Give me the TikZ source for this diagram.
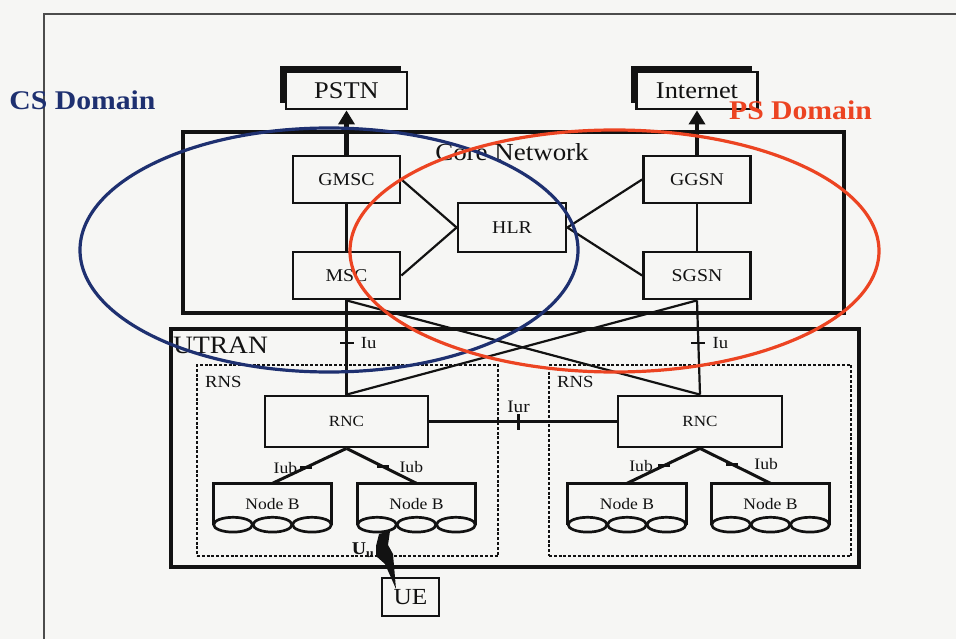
\documentclass[tikz,border=0pt]{standalone}
\usepackage{fontspec}
\setmainfont{Liberation Serif}[FakeStretch=1.1]
\usetikzlibrary{arrows.meta,calc,shadows,positioning,shapes.geometric}
\definecolor{csblue}{RGB}{30,48,112}
\definecolor{psred}{RGB}{236,68,34}
\definecolor{paper}{RGB}{246,246,244}
\definecolor{ink}{RGB}{18,18,18}
\begin{document}
\begin{tikzpicture}[x=1pt,y=-1pt,
  elem/.style={draw=ink, line width=2.8pt, fill=paper, inner sep=0pt, text=ink,
    font=\fontsize{18}{18}\selectfont},
  area/.style={draw=ink, line width=3.8pt, fill=paper, inner sep=0pt},
  rns/.style={draw=ink, line width=1.8pt, dash pattern=on 3pt off 1.8pt, inner sep=0pt},
  nodeb/.style={inner sep=0pt, minimum width=118pt, minimum height=41pt, text=ink,
    font=\fontsize{16}{16}\selectfont},
  outline/.style={draw=ink, line width=2.7pt},
  link/.style={draw=ink, line width=2.2pt},
  iublink/.style={draw=ink, line width=3pt},
  uplink/.style={draw=ink, line width=4.5pt, -{Triangle[length=14pt,width=16pt]}},
  tickh/.style={fill=ink, inner sep=0pt, minimum width=14pt, minimum height=2.4pt},
  tickv/.style={fill=ink, inner sep=0pt, minimum width=2.6pt, minimum height=16pt},
  lbl/.style={inner sep=0pt, text=ink, font=\fontsize{16}{16}\selectfont},
  big/.style={inner sep=0pt, text=ink, font=\fontsize{25}{25}\selectfont},
  domainring/.style={draw, line width=3.2pt, ellipse, inner sep=0pt},
  cloud/.style={elem, minimum width=121pt, minimum height=37pt,
    font=\fontsize{24}{24}\selectfont,
    drop shadow={shadow xshift=-6pt, shadow yshift=6pt, opacity=1, fill=ink}}
]
% page
\fill[paper] (0,0) rectangle (956,639);
\useasboundingbox (0,0) rectangle (956,639);

% slide frame
\coordinate (frameTR) at (956,14);
\coordinate (frameTL) at (44,14);
\coordinate (frameBL) at (44,639);
\draw[draw=black!70, line width=1.4pt] (frameTR) -- (frameTL) -- (frameBL);

% external networks
\node[cloud] (pstn) at (346.5,90.5) {PSTN};
\node[cloud] (internet) at (697,90.5) {Internet};

% core network
\node[area, minimum width=661pt, minimum height=181pt] (core) at (513.5,222.5) {};
\node[big, font=\fontsize{24.5}{24.5}\selectfont] (corelbl) at (512,152) {Core Network};
\node[elem, minimum width=107pt, minimum height=47pt] (gmsc) at (346.5,179.5) {GMSC};
\node[elem, minimum width=107pt, minimum height=47pt] (msc)  at (346.5,275.5) {MSC};
\node[elem, minimum width=108pt, minimum height=49pt] (hlr)  at (512,227.5) {HLR};
\node[elem, minimum width=107pt, minimum height=47pt] (ggsn) at (697,179.5) {GGSN};
\node[elem, minimum width=107pt, minimum height=47pt] (sgsn) at (697,275.5) {SGSN};

\draw[link] (gmsc) -- (msc);
\draw[link] (ggsn) -- (sgsn);
\draw[link] (gmsc.east) -- (hlr.west);
\draw[link] (msc.east) -- (hlr.west);
\draw[link] (ggsn.west) -- (hlr.east);
\draw[link] (sgsn.west) -- (hlr.east);
\draw[uplink] (gmsc.north) -- (pstn.south);
\draw[uplink] (ggsn.north) -- (internet.south);

% UTRAN
\node[area, minimum width=688pt, minimum height=238pt] (utran) at (515,448) {};
\node[big, anchor=west] (utranlbl) at (173,345) {UTRAN};
\node[rns, minimum width=301pt, minimum height=191pt] (rnsL) at (347.5,460.5) {};
\node[rns, minimum width=302pt, minimum height=191pt] (rnsR) at (700,460.5) {};
\node[lbl, font=\fontsize{17}{17}\selectfont, anchor=west] (rnsLlbl) at (205,382) {RNS};
\node[lbl, font=\fontsize{17}{17}\selectfont, anchor=west] (rnsRlbl) at (557,382) {RNS};

\node[elem, minimum width=163pt, minimum height=51pt, font=\fontsize{15.5}{15.5}\selectfont] (rncL) at (346.5,421.5) {RNC};
\node[elem, minimum width=164pt, minimum height=51pt, font=\fontsize{15.5}{15.5}\selectfont] (rncR) at (700,421.5) {RNC};

% Node B stations: open box over three cells
\node[nodeb] (nbL1) at (272.5,504) {Node B};
\node[nodeb] (nbL2) at (416.5,504) {Node B};
\node[nodeb] (nbR1) at (627,504) {Node B};
\node[nodeb] (nbR2) at (770.5,504) {Node B};
\foreach \n in {nbL1,nbL2,nbR1,nbR2}{
  \draw[outline] (\n.south west) -- (\n.north west) -- (\n.north east) -- (\n.south east);
  \foreach \f in {1,3,5}
    \draw[outline] ($(\n.south west)!\f/6!(\n.south east)$) ellipse [x radius=19.4, y radius=7.4];
}

% Iub links
\draw[iublink] (rncL.south) -- node[tickh, pos=0.55, minimum width=12pt, minimum height=3pt] (iub1) {} (nbL1.north);
\draw[iublink] (rncL.south) -- node[tickh, pos=0.52, minimum width=12pt, minimum height=3pt] (iub2) {} (nbL2.north);
\draw[iublink] (rncR.south) -- node[tickh, pos=0.5, minimum width=12pt, minimum height=3pt] (iub3) {} (nbR1.north);
\draw[iublink] (rncR.south) -- node[tickh, pos=0.45, minimum width=12pt, minimum height=3pt] (iub4) {} (nbR2.north);
\node[lbl, left=1pt of iub1] {Iub};
\node[lbl, right=9pt of iub2] {Iub};
\node[lbl, left=3pt of iub3] {Iub};
\node[lbl, right=15pt of iub4] {Iub};

% Iu links to the core
\draw[link] (msc.south) -- node[tickh, pos=0.454] (iuL) {} (rncL.north);
\draw[link] (sgsn.south) -- node[tickh, pos=0.454] (iuR) {} (rncR.north);
\draw[link] (msc.south) -- (rncR.north);
\draw[link] (sgsn.south) -- (rncL.north);
\node[lbl, font=\fontsize{17}{17}\selectfont, right=6pt of iuL] {Iu};
\node[lbl, font=\fontsize{17}{17}\selectfont, right=6pt of iuR] {Iu};

% Iur link between RNCs
\draw[link] (rncL.east) -- node[tickv, pos=0.476] (iur) {} (rncR.west);
\node[lbl, font=\fontsize{17.5}{17.5}\selectfont, above=0pt of iur] {Iur};

% user equipment and radio link
\node[elem, minimum width=57pt, minimum height=38pt, font=\fontsize{23}{23}\selectfont] (ue) at (410.5,597) {UE};
\coordinate (bolttop) at (384,532);
\coordinate (bolttip) at (396,589);
\fill[ink] (bolttop) ++(-5,2) -- ++(11,-3) -- ++(-2,14) -- ++(5,9) -- (bolttip)
  -- ++(-11,-25) -- ++(-9,-8) -- ++(0,-10) -- cycle;
\node[lbl, font=\fontsize{18}{18}\bfseries\selectfont] (uu) at (363,550) {U\textsubscript{u}};

% domains
\node[domainring, draw=csblue, minimum width=498pt, minimum height=244pt] (csdom) at (329,250) {};
\node[domainring, draw=psred, minimum width=529pt, minimum height=242pt] (psdom) at (614.5,251) {};
\node[inner sep=0pt, text=csblue, font=\fontsize{27}{27}\bfseries\selectfont] (cslbl) at (82.5,100) {CS Domain};
\node[inner sep=0pt, text=psred, font=\fontsize{27}{27}\bfseries\selectfont] (pslbl) at (800.5,110) {PS Domain};
\end{tikzpicture}
\end{document}
